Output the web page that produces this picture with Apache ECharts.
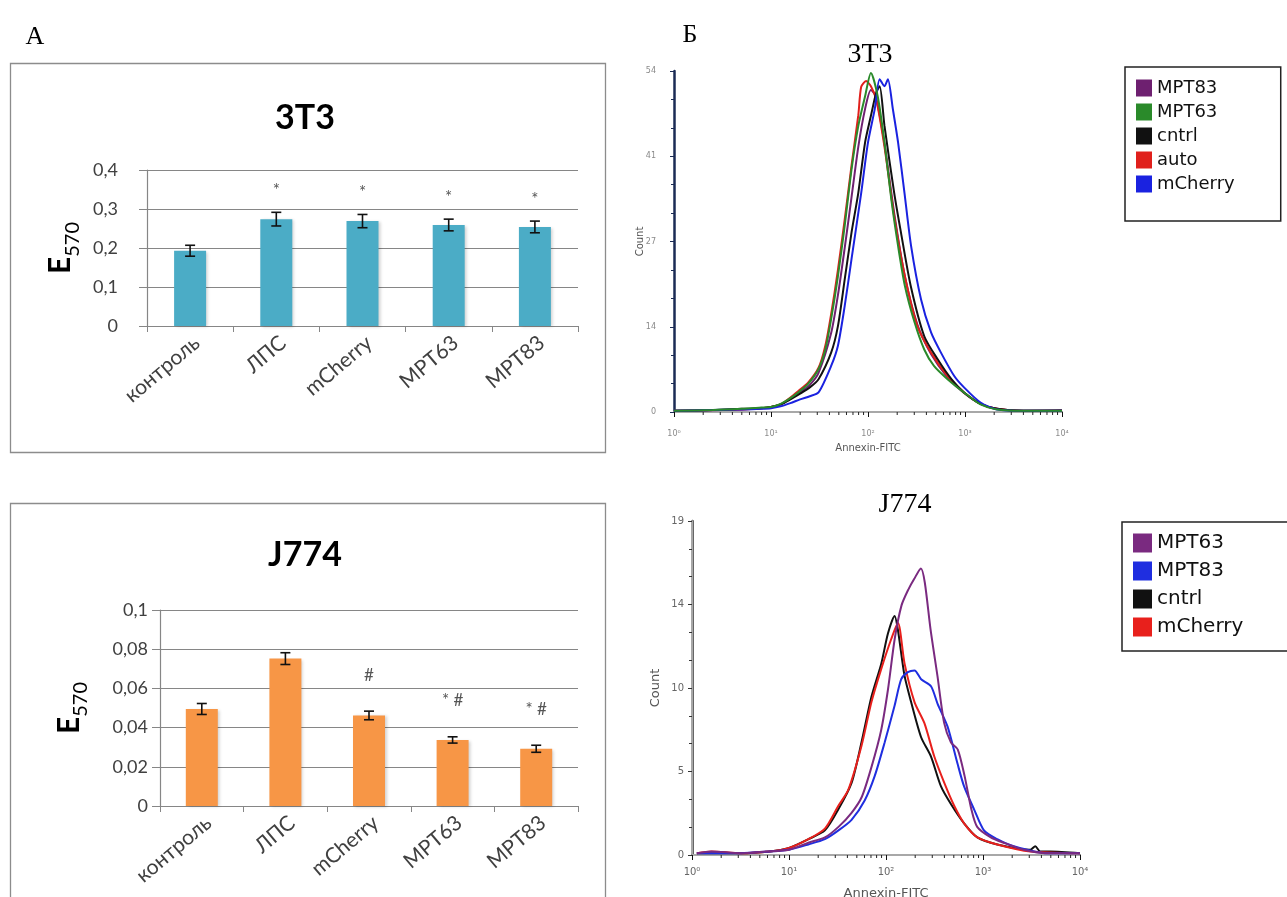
<!DOCTYPE html>
<html>
<head>
<meta charset="utf-8">
<script src="https://cdn.jsdelivr.net/npm/echarts@6/dist/echarts.min.js"></script>
<style>
  html, body { margin: 0; padding: 0; background: #fff; }
  #page { position: relative; width: 1287px; height: 897px; overflow: hidden; }
  .panel { position: absolute; }
</style>
</head>
<body>
<div id="page">
  <div id="barTop" class="panel" style="left:0;top:0;width:630px;height:470px"></div>
  <div id="barBottom" class="panel" style="left:0;top:470px;width:630px;height:460px"></div>
  <div id="histTop" class="panel" style="left:630px;top:0;width:657px;height:470px"></div>
  <div id="histBottom" class="panel" style="left:630px;top:470px;width:657px;height:460px"></div>
</div>
<script>
// ---------- Panel A: MTT optical density (E570) ----------
const categories = ['контроль', 'ЛПС', 'mCherry', 'MPT63', 'MPT83'];

const e570_3t3 = [0.193, 0.274, 0.269, 0.259, 0.254];
const err_3t3 = [0.014, 0.0175, 0.017, 0.015, 0.015];
const marks_3t3 = ['', '*', '*', '*', '*'];
const yTicks_3t3 = ['0', '0,1', '0,2', '0,3', '0,4'];

const e570_j774 = [0.0495, 0.0752, 0.0462, 0.0337, 0.0292];
const err_j774 = [0.0028, 0.003, 0.0022, 0.0016, 0.0018];
const marks_j774 = ['', '', '#', '* #', '* #'];
const yTicks_j774 = ['0', '0,02', '0,04', '0,06', '0,08', '0,1'];

// ---------- Panel Б: Annexin-FITC histograms, [log10 intensity, count] ----------
const decadeLabels = ['10\u2070', '10\u00B9', '10\u00B2', '10\u00B3', '10\u2074'];
const countTicks_3t3 = ['0', '14', '27', '41', '54'];
const countTicks_j774 = ['0', '5', '10', '14', '19'];

const h3t3_MPT83 = [[0.0,0.2],[0.5,0.3],[0.9,0.6],[1.0,0.8],[1.1,1.2],[1.2,2.1],[1.3,3.1],[1.4,4.3],[1.49,6.2],[1.62,12.5],[1.69,18.5],[1.76,26],[1.83,34],[1.9,42],[1.97,48],[2.03,51],[2.08,50],[2.17,42.5],[2.27,31.5],[2.38,21.5],[2.51,13.8],[2.65,9.2],[2.82,5.5],[2.99,3.0],[3.16,1.3],[3.33,0.5],[3.6,0.2],[4.0,0.3]];
const h3t3_MPT63 = [[0.0,0.2],[0.4,0.3],[0.7,0.5],[0.9,0.7],[1.0,0.8],[1.1,1.3],[1.2,2.2],[1.28,3.1],[1.38,4.4],[1.49,6.8],[1.56,9.9],[1.62,14.7],[1.69,21.5],[1.76,29.5],[1.83,38.4],[1.9,45.3],[1.97,50],[2.03,53.7],[2.1,50],[2.17,42.7],[2.24,33.7],[2.31,26.3],[2.38,20],[2.48,14.2],[2.58,9.9],[2.68,7.3],[2.82,5.2],[2.99,3.1],[3.16,1.2],[3.33,0.4],[3.6,0.2],[4.0,0.2]];
const h3t3_cntrl = [[0.0,0.2],[0.4,0.3],[0.7,0.5],[0.9,0.6],[1.0,0.8],[1.1,1.2],[1.2,2.0],[1.3,2.9],[1.4,3.9],[1.49,5.2],[1.62,9.4],[1.69,13.6],[1.76,21],[1.83,28.4],[1.9,34.7],[1.97,42.7],[2.03,46.9],[2.085,50.6],[2.12,51.6],[2.17,45.3],[2.27,34.7],[2.34,28.4],[2.44,20],[2.58,12],[2.72,8.3],[2.86,5.2],[2.99,3.1],[3.16,1.3],[3.33,0.5],[3.6,0.2],[4.0,0.2]];
const h3t3_auto = [[0.0,0.2],[0.4,0.3],[0.7,0.4],[0.9,0.6],[1.0,0.8],[1.1,1.2],[1.2,2.3],[1.28,3.3],[1.38,4.6],[1.49,7.0],[1.56,10.5],[1.62,15.5],[1.69,22.5],[1.76,30.5],[1.83,39],[1.9,47],[1.93,51.5],[1.98,52.4],[2.03,51.6],[2.085,49.5],[2.17,42],[2.27,31],[2.38,21.5],[2.51,13.6],[2.65,9.4],[2.82,5.7],[2.99,3.1],[3.16,1.3],[3.33,0.5],[3.6,0.2],[4.0,0.2]];
const h3t3_mCherry = [[0.0,0.2],[0.4,0.3],[0.7,0.4],[0.9,0.5],[1.0,0.6],[1.1,0.9],[1.2,1.4],[1.3,2.0],[1.4,2.5],[1.49,3.1],[1.62,7.3],[1.69,10.5],[1.76,16.8],[1.83,24.2],[1.93,34.7],[2.0,42.7],[2.07,48],[2.12,52.7],[2.17,51.6],[2.205,52.7],[2.256,48],[2.31,42.7],[2.376,34.7],[2.444,26.3],[2.547,17.8],[2.65,12.6],[2.752,9.4],[2.889,5.7],[2.99,3.9],[3.16,1.5],[3.33,0.4],[3.6,0.2],[4.0,0.2]];

const hj774_MPT63 = [[0.05,0.1],[0.2,0.2],[0.5,0.1],[0.76,0.2],[1.0,0.3],[1.2,0.7],[1.37,1.0],[1.51,1.6],[1.645,2.4],[1.75,3.3],[1.85,5.0],[1.95,7.1],[2.02,9.4],[2.09,12.3],[2.16,14.2],[2.23,15.1],[2.29,15.7],[2.36,16.3],[2.4,15.5],[2.46,12.8],[2.53,10.2],[2.6,7.5],[2.67,6.4],[2.74,6.0],[2.81,4.5],[2.88,2.6],[2.94,1.6],[3.08,1.0],[3.21,0.7],[3.42,0.3],[3.66,0.1],[4.0,0.1]];
const hj774_MPT83 = [[0.05,0.1],[0.5,0.1],[0.8,0.2],[1.0,0.3],[1.2,0.6],[1.37,0.9],[1.51,1.4],[1.645,2.0],[1.78,3.1],[1.884,4.5],[1.986,6.4],[2.089,8.5],[2.157,10.0],[2.225,10.4],[2.294,10.5],[2.362,10.0],[2.464,9.6],[2.532,8.6],[2.635,7.3],[2.737,5.2],[2.805,3.9],[2.908,2.6],[3.01,1.4],[3.147,0.9],[3.317,0.5],[3.659,0.1],[4.0,0.1]];
const hj774_cntrl = [[0.05,0.1],[0.5,0.1],[0.8,0.2],[1.0,0.4],[1.2,0.9],[1.37,1.4],[1.509,2.6],[1.645,4.1],[1.747,6.4],[1.85,9.0],[1.952,10.9],[2.02,12.6],[2.089,13.6],[2.123,12.8],[2.191,10.2],[2.259,8.7],[2.362,6.7],[2.464,5.6],[2.567,3.9],[2.669,2.9],[2.805,1.8],[2.942,1.0],[3.147,0.6],[3.488,0.3],[3.539,0.5],[3.59,0.2],[3.693,0.2],[4.0,0.1]];
const hj774_mCherry = [[0.05,0.1],[0.2,0.2],[0.5,0.1],[0.8,0.2],[1.0,0.4],[1.2,0.9],[1.37,1.5],[1.509,2.8],[1.611,3.7],[1.747,6.2],[1.85,8.7],[1.952,10.6],[2.055,12.3],[2.123,13.2],[2.191,10.9],[2.294,8.7],[2.396,7.5],[2.498,5.6],[2.601,4.1],[2.703,2.8],[2.805,1.8],[2.942,1.0],[3.147,0.6],[3.488,0.2],[4.0,0.1]];

// log-decade minor tick positions (2..9 × 10^d) on the exponent axis
const minorDecadeTicks = [];
for (let d = 0; d < 4; d++) {
  for (let k = 2; k <= 9; k++) minorDecadeTicks.push([d + Math.log10(k)]);
}

const SANS = 'Lato, "Open Sans", sans-serif';
const SERIF = '"Liberation Serif", "DejaVu Serif", serif';

function textEl(x, y, text, font, fill) {
  return {
    type: 'text', x: x, y: y, silent: true,
    style: { text: text, font: font, fill: fill || '#000',
             textAlign: 'center', align: 'center',
             textVerticalAlign: 'middle', verticalAlign: 'middle' }
  };
}

function barOption(cfg) {
  const errData = cfg.values.map((v, i) => [i, v, cfg.errors[i]]);
  return {
    animation: false,
    textStyle: { fontFamily: SANS },
    graphic: [
      { type: 'rect', silent: true, z: -1,
        shape: { x: 10.5, y: cfg.frameTop + 0.5, width: 595, height: cfg.frameHeight },
        style: { fill: 'rgba(0,0,0,0)', stroke: '#8c8c8c', lineWidth: 1.3 } },
      textEl(305, cfg.titleY, cfg.title, 'bold 34px ' + SANS, '#000')
    ].concat(cfg.extraGraphics || []),
    grid: { left: cfg.gridLeft, top: cfg.gridTop, width: cfg.gridWidth, height: cfg.gridHeight,
            containLabel: false, outerBoundsMode: 'none' },
    xAxis: {
      type: 'category', data: categories,
      axisLine: { lineStyle: { color: '#868686', width: 1.2 } },
      axisTick: { show: true, length: 6, lineStyle: { color: '#868686' } },
      axisLabel: { rotate: 40, fontSize: 21, color: '#404040', margin: 6, verticalAlign: 'top', fontFamily: SANS }
    },
    yAxis: {
      type: 'value', min: 0, max: cfg.yMax, interval: cfg.yStep,
      axisLine: { show: true, lineStyle: { color: '#868686', width: 1.2 } },
      axisTick: { show: true, length: 8, lineStyle: { color: '#868686' } },
      splitLine: { lineStyle: { color: '#868686', width: 1.2 } },
      axisLabel: { formatter: (v, i) => cfg.yTicks[i], fontSize: 18, color: '#404040', margin: cfg.yLabelMargin, fontFamily: SANS },
      name: '{e|E}{s|570}', nameLocation: 'middle', nameRotate: 90, nameGap: cfg.nameGap,
      nameTextStyle: {
        rich: {
          e: { fontSize: 30, fontWeight: 'bold', color: '#000', fontFamily: SANS, padding: [0, 0, 7, 0], verticalAlign: 'bottom' },
          s: { fontSize: 20, color: '#000', fontFamily: SANS, verticalAlign: 'bottom' }
        }
      }
    },
    series: [
      {
        type: 'bar', data: cfg.values, barWidth: 32,
        itemStyle: { color: cfg.color, shadowColor: 'rgba(0,0,0,0.18)', shadowBlur: 3, shadowOffsetX: 2, shadowOffsetY: 1 }
      },
      {
        type: 'custom', data: errData, z: 5, silent: true,
        renderItem: function (params, api) {
          const i = api.value(0), v = api.value(1), e = api.value(2);
          const hi = api.coord([i, v + e]);
          const lo = api.coord([i, v - e]);
          const x = hi[0], c = 5;
          const ls = { stroke: '#111', lineWidth: 1.6 };
          const kids = [
            { type: 'line', shape: { x1: x, y1: hi[1], x2: x, y2: lo[1] }, style: ls },
            { type: 'line', shape: { x1: x - c, y1: hi[1], x2: x + c, y2: hi[1] }, style: ls },
            { type: 'line', shape: { x1: x - c, y1: lo[1], x2: x + c, y2: lo[1] }, style: ls }
          ];
          const mark = cfg.marks[params.dataIndex];
          if (mark) {
            kids.push({ type: 'text', x: x, y: hi[1] - cfg.markOffset,
              style: { text: mark, font: '17px ' + SANS, fill: '#555',
                       textAlign: 'center', align: 'center',
                       textVerticalAlign: 'middle', verticalAlign: 'middle' } });
          }
          return { type: 'group', children: kids };
        }
      }
    ]
  };
}

function histOption(cfg) {
  const lines = cfg.series.map(s => ({
    type: 'line', name: s.name, data: s.data, showSymbol: false, symbol: 'none',
    smooth: 0.25, clip: true, z: 3,
    lineStyle: { color: s.color, width: 2 },
    itemStyle: { color: s.color }
  }));
  lines.push({
    type: 'custom', data: minorDecadeTicks, silent: true, clip: false, z: 4,
    renderItem: function (params, api) {
      const p = api.coord([api.value(0), 0]);
      return { type: 'line', shape: { x1: p[0], y1: p[1], x2: p[0], y2: p[1] + 3 },
               style: { stroke: '#222', lineWidth: 1 } };
    }
  });
  return {
    animation: false,
    textStyle: { fontFamily: '"DejaVu Sans", sans-serif' },
    graphic: [
      textEl(cfg.titleX, cfg.titleY, cfg.title, '28px ' + SERIF, '#000')
    ].concat(cfg.extraGraphics || []),
    grid: Object.assign({ containLabel: false, outerBoundsMode: 'none' }, cfg.grid),
    legend: {
      orient: 'vertical', left: cfg.legendLeft, top: cfg.legendTop,
      icon: 'rect', itemWidth: cfg.legendItemW, itemHeight: cfg.legendItemH, itemGap: cfg.legendGap,
      borderColor: '#222', borderWidth: 1.5, padding: cfg.legendPad,
      textStyle: { fontSize: cfg.legendFont, color: '#111', fontFamily: '"DejaVu Sans", sans-serif' },
      data: cfg.legendOrder, selectedMode: false
    },
    xAxis: [
      {
        type: 'value', min: 0, max: 4, interval: 1, position: 'bottom',
        axisLine: { lineStyle: { color: '#111', width: 2 } },
        axisTick: { show: true, length: 5, lineStyle: { color: '#111' } },
        splitLine: { show: false },
        axisLabel: { formatter: (v, i) => decadeLabels[i], fontSize: cfg.tickFont, color: cfg.tickColor, margin: cfg.xLabelMargin },
        name: 'Annexin-FITC', nameLocation: 'middle', nameGap: cfg.xNameGap,
        nameTextStyle: { fontSize: cfg.nameFont, color: '#555' }
      },
      {
        type: 'value', min: 0, max: 4, position: 'top',
        axisLine: { show: true, lineStyle: { color: '#a8a8a8', width: 2 } },
        axisTick: { show: false }, axisLabel: { show: false }, splitLine: { show: false }
      }
    ],
    yAxis: [
      {
        type: 'value', min: 0, max: cfg.yMax, interval: cfg.yMax / 4,
        axisLine: { show: true, lineStyle: { color: cfg.yAxisColor, width: 2.5 } },
        axisTick: { show: true, length: 4, lineStyle: { color: cfg.yAxisColor } },
        minorTick: { show: true, splitNumber: 3, length: 3, lineStyle: { color: cfg.yAxisColor } },
        splitLine: { show: false },
        axisLabel: { formatter: (v, i) => cfg.yTicks[i], fontSize: cfg.tickFont, color: cfg.tickColor, margin: cfg.yLabelMargin },
        name: 'Count', nameLocation: 'middle', nameRotate: 90, nameGap: cfg.yNameGap,
        nameMoveOverlap: false,
        nameTextStyle: { fontSize: cfg.nameFont, color: '#555' }
      },
      {
        type: 'value', min: 0, max: cfg.yMax, position: 'right',
        axisLine: { show: cfg.rightBorder, lineStyle: { color: '#a8a8a8', width: 2 } },
        axisTick: { show: false }, axisLabel: { show: false }, splitLine: { show: false }
      }
    ],
    series: lines
  };
}

echarts.init(document.getElementById('barTop')).setOption(barOption({
  title: '3T3', titleY: 118, frameTop: 63, frameHeight: 389,
  gridLeft: 147, gridTop: 170, gridWidth: 431, gridHeight: 156,
  yMax: 0.4, yStep: 0.1, yTicks: yTicks_3t3, yLabelMargin: 29, nameGap: 56, markOffset: 22,
  values: e570_3t3, errors: err_3t3, marks: marks_3t3, color: '#4bacc6',
  extraGraphics: [textEl(35, 37, 'А', '26px ' + SERIF, '#000')]
}));

echarts.init(document.getElementById('barBottom')).setOption(barOption({
  title: 'J774', titleY: 85, frameTop: 33, frameHeight: 440,
  gridLeft: 160, gridTop: 140, gridWidth: 418, gridHeight: 196,
  yMax: 0.1, yStep: 0.02, yTicks: yTicks_j774, yLabelMargin: 12, nameGap: 69, markOffset: 36,
  values: e570_j774, errors: err_j774, marks: marks_j774, color: '#f79646'
}));

echarts.init(document.getElementById('histTop')).setOption(histOption({
  title: '3T3', titleX: 240, titleY: 55,
  grid: { left: 44, top: 71, width: 388, height: 341 },
  yMax: 54, yTicks: countTicks_3t3, yAxisColor: '#1b2b55', rightBorder: false,
  tickFont: 8, tickColor: '#8a8a8a', nameFont: 10, xLabelMargin: 18, yLabelMargin: 18,
  xNameGap: 31, yNameGap: 29,
  legendLeft: 495, legendTop: 67, legendItemW: 16, legendItemH: 17, legendGap: 6, legendFont: 18,
  legendPad: [12, 46, 28, 11],
  legendOrder: ['MPT83', 'MPT63', 'cntrl', 'auto', 'mCherry'],
  series: [
    { name: 'MPT83', color: '#6e2070', data: h3t3_MPT83 },
    { name: 'auto', color: '#e0201c', data: h3t3_auto },
    { name: 'cntrl', color: '#111111', data: h3t3_cntrl },
    { name: 'mCherry', color: '#1a22e0', data: h3t3_mCherry },
    { name: 'MPT63', color: '#2a8a2a', data: h3t3_MPT63 }
  ],
  extraGraphics: [textEl(60, 35, 'Б', '26px ' + SERIF, '#000')]
}));

echarts.init(document.getElementById('histBottom')).setOption(histOption({
  title: 'J774', titleX: 275, titleY: 35,
  grid: { left: 62, top: 51, width: 388, height: 334 },
  yMax: 19, yTicks: countTicks_j774, yAxisColor: '#333333', rightBorder: true,
  tickFont: 10, tickColor: '#666', nameFont: 13, xLabelMargin: 12, yLabelMargin: 8,
  xNameGap: 32, yNameGap: 30,
  legendLeft: 492, legendTop: 52, legendItemW: 19, legendItemH: 19, legendGap: 8, legendFont: 20,
  legendPad: [11, 45, 14, 11],
  legendOrder: ['MPT63', 'MPT83', 'cntrl', 'mCherry'],
  series: [
    { name: 'cntrl', color: '#111111', data: hj774_cntrl },
    { name: 'mCherry', color: '#e8201c', data: hj774_mCherry },
    { name: 'MPT83', color: '#1f2ee0', data: hj774_MPT83 },
    { name: 'MPT63', color: '#7a2a80', data: hj774_MPT63 }
  ]
}));
</script>
</body>
</html>
